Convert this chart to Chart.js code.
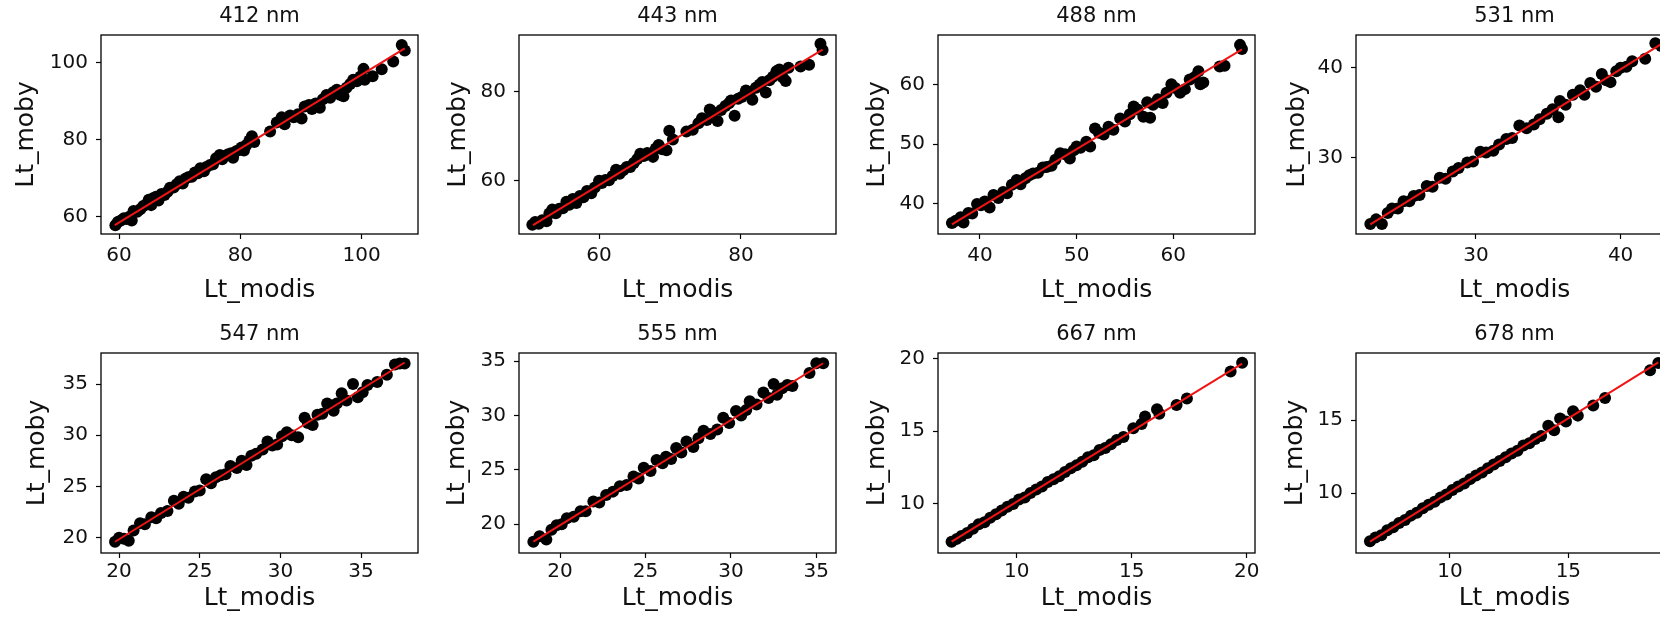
<!DOCTYPE html>
<html lang="en">
<head>
    <meta charset="UTF-8">
    <title>Lt_moby vs Lt_modis</title>
    <!-- Chart.js -->
    <script src="https://cdn.jsdelivr.net/npm/chart.js"></script>
    <style>
        body { margin: 0; width: 1660px; height: 623px; overflow: hidden; background: #fff; position: relative; }
        canvas { position: absolute; }
    </style>
</head>
<body>
    <canvas id="p0"></canvas>
    <canvas id="p1"></canvas>
    <canvas id="p2"></canvas>
    <canvas id="p3"></canvas>
    <canvas id="p4"></canvas>
    <canvas id="p5"></canvas>
    <canvas id="p6"></canvas>
    <canvas id="p7"></canvas>

    <script>
        // Band titles
        const bands = ['412 nm', '443 nm', '488 nm', '531 nm', '547 nm', '555 nm', '667 nm', '678 nm'];

        // Scatter values (Lt_modis on x, Lt_moby on y)
        const modis412 = [59.4,59.8,60.3,60.8,61.2,61.7,62.1,62.4,63.0,63.5,64.0,64.5,64.9,65.3,65.6,66.1,66.5,67.0,67.5,68.0,68.4,69.0,69.5,70.0,70.5,71.0,71.5,72.0,72.5,73.0,73.4,74.0,74.4,75.0,75.5,76.0,76.6,77.0,77.5,78.0,78.5,78.8,79.3,79.8,80.2,80.6,81.0,81.5,81.9,82.3,84.9,86.0,86.8,87.3,88.2,88.8,89.5,90.1,90.6,91.3,91.8,92.4,93.1,93.6,94.2,94.8,95.3,95.9,96.4,97.0,97.5,98.1,98.6,99.2,99.8,100.3,100.5,101.8,103.3,105.2,106.6,107.1];
        const moby412  = [57.8,58.6,59.0,59.6,59.4,60.0,59.0,61.5,61.3,61.9,62.8,63.2,64.4,63.0,64.8,65.2,64.2,65.9,65.6,66.5,67.5,67.6,68.4,69.2,68.6,69.9,70.3,70.4,71.5,71.3,72.6,71.8,72.9,73.4,73.6,75.2,76.0,74.9,75.8,76.2,76.5,75.3,77.0,77.3,78.0,77.2,78.6,79.8,80.9,79.4,82.1,84.5,85.8,84.0,86.3,85.8,86.6,85.5,88.6,89.0,88.0,89.4,88.3,90.5,91.6,90.9,92.3,93.0,91.7,91.3,93.5,94.5,95.6,95.2,96.4,98.4,95.6,96.5,98.3,100.3,104.6,103.2];

        const modis443 = [50.6,51.0,51.5,52.0,52.6,53.0,53.4,53.9,54.4,54.9,55.4,55.8,56.3,56.8,57.3,57.8,58.3,58.9,59.4,60.0,60.4,60.9,61.4,61.9,62.4,62.9,63.4,63.9,64.4,64.9,65.4,65.8,66.3,66.8,67.3,67.6,68.0,68.4,68.9,69.5,69.9,70.4,72.3,73.2,74.0,74.5,75.2,75.6,76.0,76.7,77.2,77.8,78.3,78.6,79.1,79.6,80.1,80.7,81.2,81.6,82.1,82.6,83.0,83.5,84.0,84.5,85.0,85.4,85.9,86.3,86.7,88.4,89.6,91.2,91.5];
        const moby443  = [50.0,50.6,50.2,51.0,50.8,52.5,53.4,52.6,53.6,53.7,55.2,54.5,55.8,54.9,56.5,56.2,57.6,57.1,58.4,59.9,59.4,60.1,60.0,61.0,62.4,61.5,62.3,63.0,63.0,63.9,64.8,66.0,65.5,66.2,66.0,65.3,67.2,68.0,67.0,66.8,71.2,69.2,71.0,71.4,72.9,74.0,73.6,76.0,75.4,73.4,75.9,76.8,77.4,78.0,74.6,78.4,78.8,80.3,79.4,78.2,80.9,81.6,82.2,79.8,82.6,83.4,84.6,85.0,83.2,82.4,85.4,85.7,86.1,90.8,89.4];

        const modis488 = [37.1,37.5,38.0,38.3,38.8,39.2,39.7,40.1,40.5,41.0,41.4,41.9,42.4,42.8,43.3,43.8,44.2,44.7,45.1,45.5,46.0,46.5,46.9,47.4,47.8,48.3,48.8,49.3,49.7,50.0,50.4,51.0,51.4,51.9,52.3,52.8,53.3,53.8,54.5,55.0,55.5,55.9,56.3,56.9,57.3,57.6,57.9,58.4,58.9,59.3,59.8,60.2,60.7,61.2,61.7,62.2,62.6,62.8,63.1,64.8,65.3,66.9,67.1];
        const moby488  = [36.8,37.2,37.8,36.9,38.5,38.4,40.0,39.8,40.4,39.4,41.5,41.0,42.0,41.8,43.2,44.0,43.3,44.3,44.8,45.1,45.2,46.1,46.2,46.4,47.4,48.5,48.3,47.6,49.0,49.6,49.4,50.4,49.6,52.6,51.9,51.6,52.9,52.4,54.3,53.8,55.0,56.3,55.8,54.6,57.0,54.4,56.6,57.5,56.9,58.6,60.0,59.4,58.6,59.2,60.8,61.2,62.2,60.0,60.3,63.0,63.1,66.6,65.9];

        const modis531 = [22.7,23.1,23.5,23.9,24.2,24.6,25.0,25.4,25.7,26.1,26.6,27.0,27.5,27.9,28.4,28.8,29.4,29.8,30.3,30.7,31.2,31.6,32.1,32.5,33.0,33.5,34.0,34.4,34.9,35.3,35.7,35.8,36.2,36.7,37.2,37.5,37.9,38.3,38.7,39.0,39.3,39.7,40.0,40.4,40.8,41.7,42.4,42.8];
        const moby531  = [22.7,23.2,22.7,23.9,24.4,24.4,25.2,25.2,25.8,25.9,26.9,26.8,27.8,27.7,28.5,28.9,29.5,29.6,30.7,30.6,30.8,31.5,32.1,32.2,33.6,33.3,33.7,34.3,34.9,35.4,34.5,36.3,35.9,37.0,37.5,37.0,38.3,37.9,39.3,38.6,38.4,39.6,40.0,40.1,40.7,41.0,42.7,42.4];

        const modis547 = [19.75,20.0,20.3,20.6,20.9,21.3,21.6,22.0,22.3,22.6,23.0,23.4,23.7,24.0,24.3,24.7,25.0,25.4,25.7,26.0,26.3,26.6,26.9,27.3,27.6,27.9,28.2,28.5,28.9,29.2,29.5,29.8,30.1,30.4,30.7,31.1,31.5,31.7,32.0,32.3,32.6,32.9,33.3,33.5,33.8,34.1,34.5,34.8,35.1,35.4,36.0,36.6,37.1,37.4,37.7];
        const moby547  = [19.6,20.0,19.9,19.7,20.7,21.4,21.3,22.0,21.9,22.4,22.6,23.6,23.3,24.0,23.9,24.5,24.6,25.7,25.3,25.9,26.1,26.2,27.0,26.8,27.5,27.1,28.0,28.2,28.6,29.4,29.0,29.1,29.9,30.3,30.0,29.8,31.7,31.2,31.0,32.0,32.1,33.1,32.4,33.1,34.1,33.4,35.0,33.7,34.2,34.9,35.2,35.9,36.9,37.0,37.0];

        const modis555 = [18.44,18.8,19.2,19.5,19.8,20.1,20.4,20.8,21.2,21.5,21.95,22.3,22.7,23.1,23.5,23.9,24.3,24.6,24.9,25.3,25.65,26.0,26.2,26.5,26.8,27.1,27.4,27.8,28.1,28.4,28.8,29.2,29.55,29.9,30.3,30.6,30.9,31.1,31.5,31.9,32.2,32.5,32.7,33.0,33.3,33.6,34.6,35.0,35.4];
        const moby555  = [18.4,18.9,18.6,19.5,19.9,20.0,20.55,20.7,21.2,21.2,22.1,22.0,22.7,23.0,23.5,23.6,24.4,24.2,25.2,24.9,25.9,25.6,26.2,26.0,27.0,26.6,27.6,27.1,27.9,28.6,28.3,28.7,29.8,29.3,30.4,30.0,30.5,31.3,31.0,32.1,31.6,32.9,31.9,32.5,32.8,32.7,33.9,34.8,34.8];

        const modis667 = [7.17,7.4,7.6,7.85,8.1,8.35,8.6,8.85,9.1,9.35,9.6,9.85,10.1,10.35,10.6,10.85,11.1,11.35,11.6,11.85,12.1,12.35,12.6,12.85,13.1,13.35,13.6,13.85,14.1,14.35,14.64,15.07,15.43,15.58,16.1,16.2,16.95,17.4,19.3,19.8];
        const moby667  = [7.4,7.6,7.8,8.0,8.3,8.6,8.75,9.05,9.3,9.55,9.8,10.0,10.3,10.45,10.75,11.0,11.2,11.5,11.7,11.9,12.2,12.45,12.65,12.9,13.2,13.35,13.7,13.85,14.1,14.4,14.6,15.2,15.5,16.0,16.5,16.2,16.8,17.25,19.1,19.7];

        const modis678 = [6.62,6.85,7.1,7.35,7.6,7.85,8.1,8.35,8.6,8.85,9.1,9.35,9.6,9.85,10.1,10.35,10.6,10.85,11.1,11.35,11.6,11.85,12.1,12.35,12.6,12.85,13.1,13.35,13.6,13.85,14.15,14.4,14.65,14.9,15.2,15.4,16.05,16.55,18.45,18.8];
        const moby678  = [6.7,6.95,7.1,7.45,7.65,7.95,8.15,8.45,8.65,8.95,9.2,9.4,9.7,9.9,10.2,10.45,10.65,10.95,11.2,11.4,11.7,11.95,12.2,12.45,12.7,12.9,13.25,13.4,13.7,13.9,14.6,14.3,15.1,14.9,15.6,15.3,16.0,16.5,18.4,18.9];

        // Red fit line end points [x0, x1] and [y0, y1]
        const fitX = [[59.3, 107.1], [50.7, 91.5], [37.1, 67.1], [22.7, 42.8], [19.75, 37.7], [18.44, 35.4], [7.17, 19.8], [6.62, 18.8]];
        const fitY = [[57.8, 103.7], [49.9, 89.5], [36.6, 65.85], [22.65, 42.6], [19.6, 37.1], [18.4, 34.8], [7.41, 19.64], [6.67, 18.95]];

        // Axis ranges and tick labels
        const xRange = [[57.03, 109.28], [48.72, 93.39], [35.66, 68.45], [21.71, 43.62], [18.88, 38.53], [17.6, 36.15], [6.58, 20.36], [6.03, 19.42]];
        const yRange = [[55.5, 107.2], [47.9, 92.8], [34.98, 68.25], [21.58, 43.62], [18.5, 38.03], [17.36, 35.74], [6.63, 20.37], [5.89, 19.59]];
        const xTicks = [[60, 80, 100], [60, 80], [40, 50, 60], [30, 40], [20, 25, 30, 35], [20, 25, 30, 35], [10, 15, 20], [10, 15]];
        const yTicks = [[60, 80, 100], [60, 80], [40, 50, 60], [30, 40], [20, 25, 30, 35], [20, 25, 30, 35], [10, 15, 20], [10, 15]];

        const modis = [modis412, modis443, modis488, modis531, modis547, modis555, modis667, modis678];
        const moby = [moby412, moby443, moby488, moby531, moby547, moby555, moby667, moby678];

        // Page layout (pixels)
        const colLeft = [101, 519, 938, 1356];
        const rowTop = [0, 318];
        const boxW = 317;
        const boxH = [199, 200];
        const sideW = 100;
        const xAxisH = [75, 70];
        const xTickPad = [5, 2];
        const xTitlePad = [4, 10];
        const yTitlePad = [10, 24, 24, 26, 21, 23, 24, 24];

        const family = "'DejaVu Sans', sans-serif";
        const ink = '#111';
        Chart.defaults.font.family = family;

        // Draws the four sided box round each plot area
        const frame = {
            id: 'frame',
            afterDraw(chart) {
                const { ctx, chartArea: a } = chart;
                ctx.save();
                ctx.strokeStyle = '#000';
                ctx.lineWidth = 1.3;
                ctx.strokeRect(a.left, a.top, a.right - a.left, a.bottom - a.top);
                ctx.restore();
            }
        };

        function tickGrid() {
            return { display: true, drawOnChartArea: false, drawTicks: true, tickLength: 5, tickColor: '#000', tickWidth: 1.2 };
        }

        function makePanel(i) {
            const row = Math.floor(i / 4);
            const col = i % 4;
            const canvas = document.getElementById('p' + i);
            canvas.width = sideW + boxW + sideW;
            canvas.height = 35 + boxH[row] + xAxisH[row];
            canvas.style.left = (colLeft[col] - sideW) + 'px';
            canvas.style.top = rowTop[row] + 'px';

            const points = modis[i].map((x, k) => ({ x: x, y: moby[i][k] }));
            const line = fitX[i].map((x, k) => ({ x: x, y: fitY[i][k] }));

            new Chart(canvas, {
                type: 'scatter',
                data: {
                    datasets: [
                        {
                            data: line,
                            showLine: true,
                            borderColor: 'rgb(240, 20, 20)',
                            borderWidth: 2,
                            pointRadius: 0,
                            order: 0
                        },
                        {
                            data: points,
                            backgroundColor: '#000',
                            borderColor: '#000',
                            borderWidth: 0,
                            pointRadius: 6,
                            order: 1
                        }
                    ]
                },
                options: {
                    responsive: false,
                    animation: false,
                    events: [],
                    layout: { padding: 0 },
                    plugins: {
                        legend: { display: false },
                        tooltip: { enabled: false },
                        title: {
                            display: true,
                            text: bands[i],
                            color: ink,
                            font: { size: 21, weight: 'normal', family: family, lineHeight: 1.2 },
                            padding: { top: 4, bottom: 5.8 }
                        }
                    },
                    scales: {
                        x: {
                            type: 'linear',
                            position: 'bottom',
                            min: xRange[i][0],
                            max: xRange[i][1],
                            afterBuildTicks: s => { s.ticks = xTicks[i].map(v => ({ value: v })); },
                            afterFit: s => { s.height = xAxisH[row]; },
                            grid: tickGrid(),
                            border: { display: false },
                            ticks: { color: ink, font: { size: 20 }, padding: xTickPad[row], maxRotation: 0, autoSkip: false, callback: v => String(v) },
                            title: { display: true, text: 'Lt_modis', color: ink, font: { size: 25 }, padding: { top: 0, bottom: xTitlePad[row] } }
                        },
                        y: {
                            type: 'linear',
                            position: 'left',
                            min: yRange[i][0],
                            max: yRange[i][1],
                            afterBuildTicks: s => { s.ticks = yTicks[i].map(v => ({ value: v })); },
                            afterFit: s => { s.width = sideW; },
                            grid: tickGrid(),
                            border: { display: false },
                            ticks: { color: ink, font: { size: 20 }, padding: 8, autoSkip: false, callback: v => String(v) },
                            title: { display: true, text: 'Lt_moby', color: ink, font: { size: 25 }, padding: { top: yTitlePad[i], bottom: 0 } }
                        },
                        // empty right side so the title centres over the plot box
                        yr: {
                            type: 'linear',
                            position: 'right',
                            grid: { display: false },
                            border: { display: false },
                            ticks: { display: false },
                            afterFit: s => { s.width = sideW; }
                        }
                    }
                },
                plugins: [frame]
            });
        }

        for (let i = 0; i < 8; i++) {
            makePanel(i);
        }
    </script>
</body>
</html>
